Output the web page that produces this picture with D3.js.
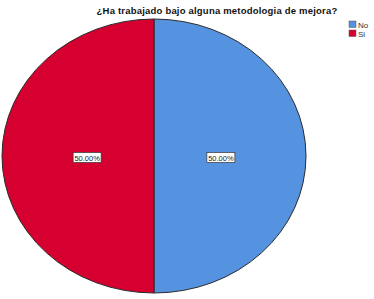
<!DOCTYPE html>
<html>
<head>
<meta charset="utf-8">
<script src="https://cdn.jsdelivr.net/npm/d3@7"></script>
<style>
  body { margin: 0; background: #fff; }
  svg { display: block; }
</style>
</head>
<body>
<div id="chart"></div>
<script>
/* DATA */
const categories = ["No", "Si"];
const values = [50, 50];
const labels = ["50.00%", "50.00%"];
const colors = ["#5592E0", "#D5002F"];
const title = "¿Ha trabajado bajo alguna metodologia de mejora?";

/* CONSTANTS */
const width = 374,
  height = 299,
  cx = 154, cy = 156,
  rx = 152, ry = 137;

const svg = d3.select("#chart")
  .append("svg")
  .attr("width", width)
  .attr("height", height)
  .style("font-family", "Arial, 'Liberation Sans', sans-serif");

// title
svg.append("text")
  .attr("x", 217)
  .attr("y", 14)
  .attr("text-anchor", "middle")
  .attr("font-size", 9.5)
  .attr("font-weight", "bold")
  .attr("letter-spacing", 0.2)
  .attr("fill", "#111")
  .text(title);

const data = categories.map((c, i) => ({ cat: c, value: values[i], label: labels[i], color: colors[i] }));

const pie = d3.pie().sort(null).value(d => d.value);
const arcs = pie(data);

// draw pie in a unit circle, then stretch it into the ellipse
const r = 100;
const arc = d3.arc().innerRadius(0).outerRadius(r);

const g = svg.append("g")
  .attr("transform", `translate(${cx},${cy}) scale(${rx / r},${ry / r})`);

g.selectAll("path.slice")
  .data(arcs)
  .join("path")
  .attr("class", "slice")
  .attr("d", arc)
  .attr("fill", d => d.data.color)
  .attr("stroke", "#2a2a2a")
  .attr("stroke-width", 1)
  .attr("vector-effect", "non-scaling-stroke");

// labels inside slices
const labelArc = d3.arc().innerRadius(r * 0.44).outerRadius(r * 0.44);
const lab = svg.selectAll("g.lab")
  .data(arcs)
  .join("g")
  .attr("class", "lab")
  .attr("transform", d => {
    const [x, y] = labelArc.centroid(d);
    return `translate(${cx + x * rx / r},${cy + y * ry / r + 1.5})`;
  });

lab.append("rect")
  .attr("x", -14)
  .attr("y", -5)
  .attr("width", 28)
  .attr("height", 10)
  .attr("fill", "#fff")
  .attr("stroke", "#333")
  .attr("stroke-width", 0.7);

lab.append("text")
  .attr("text-anchor", "middle")
  .attr("y", 3)
  .attr("font-size", 7.5)
  .attr("fill", "#222")
  .text(d => d.data.label);

// legend
const legend = svg.selectAll("g.legend")
  .data(data)
  .join("g")
  .attr("class", "legend")
  .attr("transform", (d, i) => `translate(349,${21 + i * 9})`);

legend.append("rect")
  .attr("width", 7)
  .attr("height", 6.5)
  .attr("fill", d => d.color)
  .attr("stroke", "#555")
  .attr("stroke-width", 0.5);

legend.append("text")
  .attr("x", 9)
  .attr("y", 6.5)
  .attr("font-size", 8)
  .attr("fill", "#333")
  .text(d => d.cat);
</script>
</body>
</html>
